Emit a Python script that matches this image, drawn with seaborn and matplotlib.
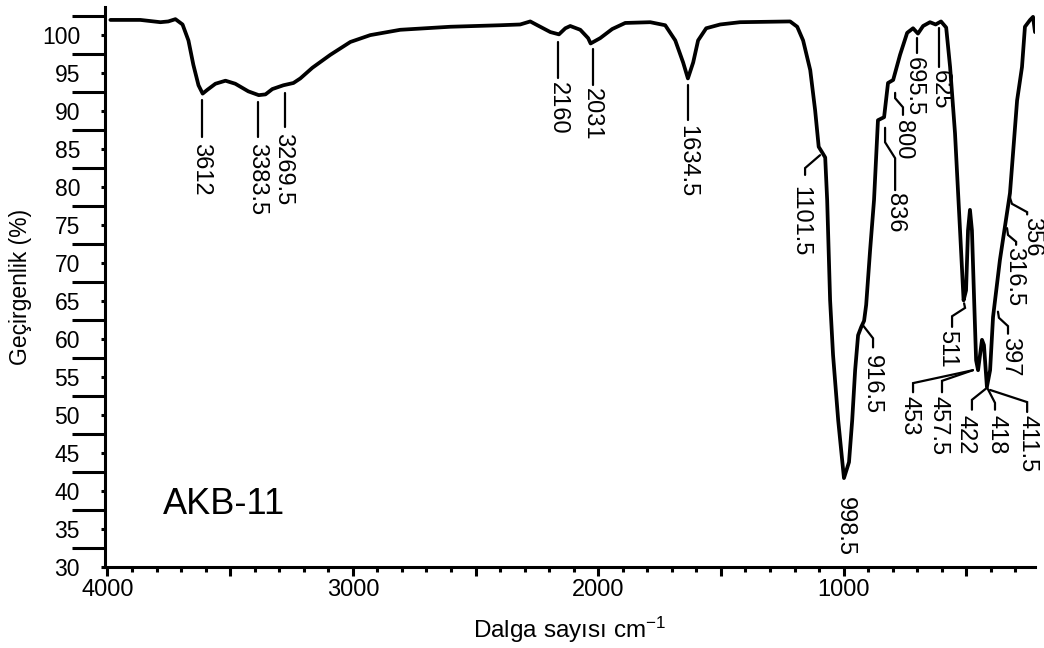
"""
FTIR spectrum of sample AKB-11 (transmittance vs wavenumber) with peak labels.
"""

import matplotlib
matplotlib.use("Agg")
import matplotlib.pyplot as plt
from matplotlib.ticker import MultipleLocator, FixedLocator, FuncFormatter
import pandas as pd
import seaborn as sns

# ---------------------------- DATA -----------------------------------

wavenumber = [
    3988, 3866, 3784, 3752, 3723, 3694, 3670, 3650, 3629, 3612, 3593, 3560,
    3519, 3479, 3426, 3383.5, 3356, 3328, 3283, 3242, 3214, 3165, 3092, 3010,
    2929, 2807, 2603, 2399, 2318, 2277, 2248, 2195, 2160, 2134, 2114, 2073,
    2041, 2031, 1992, 1943, 1890, 1788, 1727, 1686, 1654, 1634.5, 1613, 1593,
    1560, 1503, 1422, 1218, 1189, 1165, 1136, 1116, 1101.5, 1088, 1075, 1067,
    1055, 1043, 1022, 1006, 998.5, 978, 965, 953, 941, 928, 916.5, 908, 892,
    876, 860, 835, 819, 798, 770, 741, 717, 697, 676, 648, 625, 603, 582, 566,
    546, 525, 511, 501, 493, 485, 477, 468, 460, 452, 436, 428, 416, 403, 391,
    363, 322, 293, 273, 261, 240, 228, 220,
]
transmittance = [
    102.0, 102.0, 101.7, 101.8, 102.1, 101.4, 99.3, 96.1, 93.4, 92.3, 92.8, 93.6,
    94.0, 93.6, 92.6, 92.1, 92.2, 92.9, 93.4, 93.7, 94.3, 95.7, 97.4, 99.1,
    100.0, 100.7, 101.1, 101.3, 101.4, 101.8, 101.3, 100.4, 100.1, 100.9, 101.2, 100.7,
    99.6, 98.9, 99.6, 100.8, 101.6, 101.7, 101.3, 99.3, 96.4, 94.3, 96.4, 99.3,
    100.9, 101.4, 101.7, 101.8, 101.1, 99.3, 95.4, 90.1, 85.3, 84.6, 83.9, 78.3,
    65.1, 57.9, 49.3, 44.1, 41.7, 43.8, 49.3, 55.9, 60.5, 61.6, 62.4, 64.5, 71.7,
    78.3, 88.8, 89.2, 93.7, 94.1, 97.4, 100.3, 100.9, 100.2, 101.2, 101.7, 101.4, 101.8, 101.0, 95.8,
    87.1, 74.0, 65.1, 66.4, 74.3, 77.0, 74.3, 65.1, 57.2, 55.9, 59.9, 59.2, 53.7, 55.9, 62.9,
    70.4, 79.2, 91.4, 95.8, 101.1, 102.0, 102.4, 100.4,
]

peak_labels = [
    "3612", "3383.5", "3269.5", "2160", "2031", "1634.5", "1101.5", "998.5",
    "916.5", "836", "800", "695.5", "625", "511", "457.5", "453", "422",
    "418", "411.5", "397", "356", "316.5",
]

sample_name = "AKB-11"

# ---------------------------- LAYOUT ---------------------------------
# leader line vertices (cm-1, %) and top-centre anchor of each label text

leader_paths = {
    "3612": [(3613, 91.4), (3613, 86.6)],
    "3383.5": [(3386, 91.2), (3386, 86.6)],
    "3269.5": [(3275, 92.4), (3275, 87.9)],
    "2160": [(2163, 99.1), (2163, 94.3)],
    "2031": [(2020, 98.2), (2020, 93.4)],
    "1634.5": [(1633, 93.4), (1633, 88.8)],
    "1101.5": [(1096, 84.2), (1157, 82.5), (1157, 81.6)],
    "998.5": [],
    "916.5": [(921, 61.8), (880, 60.1), (880, 58.9)],
    "836": [(831, 87.8), (831, 85.9), (790, 83.8), (790, 79.6)],
    "800": [(790, 92.4), (790, 91.7), (758, 90.5), (758, 89.5)],
    "695.5": [(700, 99.6), (700, 97.6)],
    "625": [(612, 100.9), (612, 95.8)],
    "511": [(509, 64.7), (505, 64.1), (558, 63.0), (558, 61.6)],
    "457.5": [(473, 55.9), (599, 54.5), (599, 53.0)],
    "453": [(473, 55.9), (717, 54.2), (717, 53.0)],
    "422": [(415, 53.6), (477, 52.0), (477, 50.7)],
    "418": [(415, 53.6), (383, 51.6), (383, 50.7)],
    "411.5": [(403, 53.3), (252, 51.7), (252, 50.4)],
    "397": [(371, 63.6), (367, 62.8), (330, 61.7), (330, 60.7)],
    "356": [(322, 78.6), (314, 77.8), (252, 76.7), (252, 76.4)],
    "316.5": [(334, 74.6), (330, 73.7), (297, 72.8), (297, 72.4)],
}

text_anchor = {
    "3612": (3619, 85.8),
    "3383.5": (3390, 85.8),
    "3269.5": (3283, 87.1),
    "2160": (2166, 93.8),
    "2031": (2024, 93.0),
    "1634.5": (1636, 88.2),
    "1101.5": (1177, 80.1),
    "998.5": (994, 39.2),
    "916.5": (884, 57.9),
    "836": (790, 79.2),
    "800": (758, 88.8),
    "695.5": (716, 97.1),
    "625": (609, 95.4),
    "511": (578, 61.2),
    "457.5": (615, 52.5),
    "453": (733, 52.5),
    "422": (505, 50.0),
    "418": (375, 50.0),
    "411.5": (252, 50.0),
    "397": (322, 60.3),
    "356": (232, 76.1),
    "316.5": (306, 72.1),
}


def main():
    sns.set_theme(style="ticks")
    plt.rcParams["font.family"] = ["Liberation Sans", "DejaVu Sans"]
    plt.rcParams["mathtext.fontset"] = "custom"
    plt.rcParams["mathtext.rm"] = "Liberation Sans"
    plt.rcParams["mathtext.default"] = "regular"
    for key in ["text.color", "axes.labelcolor", "xtick.color", "ytick.color",
                "xtick.labelcolor", "ytick.labelcolor"]:
        plt.rcParams[key] = "black"

    df = pd.DataFrame({"wn": wavenumber, "T": transmittance})

    fig = plt.figure(figsize=(10.44, 6.48), dpi=100)
    ax = fig.add_axes([105 / 1044, 81 / 648, 930 / 1044, 560 / 648])

    sns.lineplot(data=df, x="wn", y="T", sort=False, estimator=None,
                 color="black", lw=2.7, ax=ax)
    ax.lines[0].set_solid_joinstyle("round")

    # peak labels with leader lines
    for lab in peak_labels:
        path = leader_paths[lab]
        if path:
            xs = [p[0] for p in path]
            ys = [p[1] for p in path]
            ax.plot(xs, ys, color="black", lw=1.6, solid_joinstyle="miter")
        tx, ty = text_anchor[lab]
        ax.text(tx, ty, lab, rotation=-90, ha="center", va="top",
                fontsize=17, color="black")

    ax.text(3772, 38.2, sample_name, fontsize=26, ha="left", va="center")

    # axes ranges
    ax.set_xlim(4010, 220)
    ax.set_ylim(30, 103.7)

    # x ticks: long every 500, labelled every 1000, short every 100
    ax.xaxis.set_major_locator(MultipleLocator(500))
    ax.xaxis.set_minor_locator(MultipleLocator(100))
    ax.xaxis.set_major_formatter(
        FuncFormatter(lambda v, p: f"{int(v)}" if v % 1000 == 0 else ""))
    ax.tick_params(axis="x", which="major", direction="out", length=6.5,
                   width=2.2, pad=2, labelsize=17, color="black")
    ax.tick_params(axis="x", which="minor", direction="out", length=3.6,
                   width=2.2, color="black")

    # y ticks: labelled short ticks every 5, long ticks in between
    ax.yaxis.set_major_locator(MultipleLocator(5))
    ax.yaxis.set_minor_locator(FixedLocator([32.5 + 5 * k for k in range(15)]))
    ax.tick_params(axis="y", which="major", direction="out", length=3,
                   width=2.2, pad=15, labelsize=16.5, color="black")
    ax.tick_params(axis="y", which="minor", direction="out", length=24,
                   width=2.2, color="black")

    for side in ["top", "right"]:
        ax.spines[side].set_visible(False)
    for side in ["left", "bottom"]:
        ax.spines[side].set_linewidth(2.2)
        ax.spines[side].set_color("black")

    ax.set_xlabel("Dalga sayısı cm$^{-1}$", fontsize=17.5, labelpad=10)
    ax.set_ylabel("Geçirgenlik (%)", fontsize=16.5, labelpad=7)

    fig.savefig("out.png", dpi=100, facecolor="white")
    plt.close(fig)


if __name__ == "__main__":
    main()
